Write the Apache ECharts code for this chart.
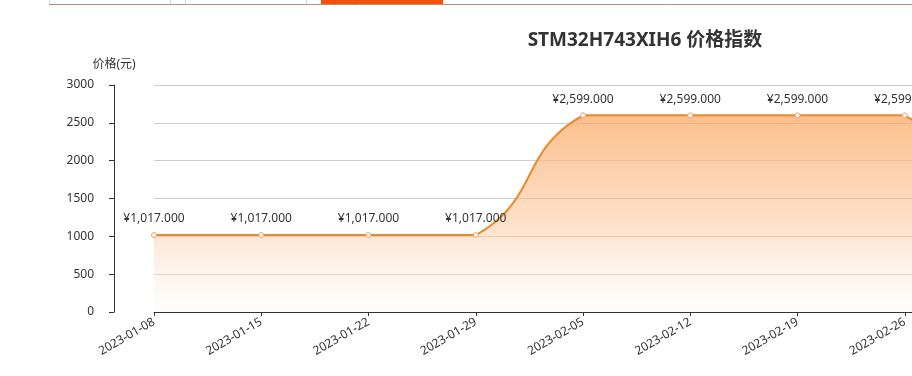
<!DOCTYPE html>
<html>
<head>
<meta charset="utf-8">
<script src="https://cdn.jsdelivr.net/npm/echarts@6/dist/echarts.min.js"></script>
<style>
html,body{margin:0;padding:0;background:#fff;overflow:hidden;width:912px;height:376px;}
#c{width:1290px;height:376px;}
</style>
</head>
<body>
<div id="c"></div>
<script>
const titleText = 'STM32H743XIH6 价格指数';
const yAxisName = '价格(元)';
const categories = ['2023-01-08','2023-01-15','2023-01-22','2023-01-29','2023-02-05','2023-02-12','2023-02-19','2023-02-26','2023-03-05'];
const prices = [1017, 1017, 1017, 1017, 2599, 2599, 2599, 2599, 1017];
const yTicks = [0, 500, 1000, 1500, 2000, 2500, 3000];

const chart = echarts.init(document.getElementById('c'), null, {renderer:'canvas'});
const fam = '"Noto Sans", "Noto Sans CJK SC", sans-serif';
const lineColor = '#e8892b';
const SMOOTH = 0.5;
function fmt(v){
  return '¥' + Number(v).toLocaleString('en-US',{minimumFractionDigits:3,maximumFractionDigits:3});
}
// classic bezier smoothing (control points from neighbours, constrained to bbox of points)
function controlPoints(pts){
  let minX=Infinity,minY=Infinity,maxX=-Infinity,maxY=-Infinity;
  pts.forEach(p=>{minX=Math.min(minX,p[0]);maxX=Math.max(maxX,p[0]);minY=Math.min(minY,p[1]);maxY=Math.max(maxY,p[1]);});
  const cps=[];
  const n=pts.length;
  for(let i=0;i<n;i++){
    const p=pts[i], prev=pts[i===0?i:i-1], next=pts[i===n-1?i:i+1];
    const vx=(next[0]-prev[0])*SMOOTH, vy=(next[1]-prev[1])*SMOOTH;
    let d0=Math.hypot(p[0]-prev[0],p[1]-prev[1]), d1=Math.hypot(p[0]-next[0],p[1]-next[1]);
    const s=d0+d1; if(s!==0){d0/=s;d1/=s;}
    const clamp=(x,y)=>[Math.min(Math.max(x,minX),maxX),Math.min(Math.max(y,minY),maxY)];
    cps.push([clamp(p[0]-vx*d0,p[1]-vy*d0), clamp(p[0]+vx*d1,p[1]+vy*d1)]);
  }
  return cps;
}
function bez(a,b,c,d,t){const u=1-t;return u*u*u*a+3*u*u*t*b+3*u*t*t*c+t*t*t*d;}

function renderCurve(params, api){
  if(params.dataIndex !== 0) return null;
  const pts = prices.map((v,k)=>api.coord([k,v]));
  const cps = controlPoints(pts);
  const curve=[];
  const N=40;
  for(let i=0;i<pts.length-1;i++){
    const p0=pts[i], p1=pts[i+1], c0=cps[i][1], c1=cps[i+1][0];
    for(let s=(i===0?0:1);s<=N;s++){
      const t=s/N;
      curve.push([bez(p0[0],c0[0],c1[0],p1[0],t), bez(p0[1],c0[1],c1[1],p1[1],t)]);
    }
  }
  const base = api.coord([0,0])[1];
  const top = api.coord([0,Math.max.apply(null,prices)])[1];
  const poly = curve.concat([[pts[pts.length-1][0],base],[pts[0][0],base]]);
  const grad = new echarts.graphic.LinearGradient(0, top, 0, base, [
    {offset:0,color:'rgba(251,168,100,0.75)'},
    {offset:0.55,color:'rgba(252,198,155,0.55)'},
    {offset:1,color:'rgba(255,246,238,0.2)'}
  ], true);
  return {type:'group',children:[
    {type:'polygon',shape:{points:poly},style:{fill:grad},silent:true},
    {type:'polyline',shape:{points:curve},style:{stroke:lineColor,lineWidth:2,fill:null},silent:true}
  ]};
}

chart.setOption({
  animation:false,
  textStyle:{fontFamily:fam},
  title:{
    text:titleText,
    left:'center',
    top:26,
    textStyle:{fontSize:19,fontWeight:'bold',color:'#333',fontFamily:fam}
  },
  graphic:[
    {type:'line',shape:{x1:49,y1:4.5,x2:1290,y2:4.5},style:{stroke:'#b89070',lineWidth:1}},
    {type:'line',shape:{x1:49.5,y1:0,x2:49.5,y2:4},style:{stroke:'#d8d8d8',lineWidth:1}},
    {type:'line',shape:{x1:170.5,y1:0,x2:170.5,y2:4},style:{stroke:'#d8d8d8',lineWidth:1}},
    {type:'line',shape:{x1:185.5,y1:0,x2:185.5,y2:4},style:{stroke:'#d8d8d8',lineWidth:1}},
    {type:'line',shape:{x1:306.5,y1:0,x2:306.5,y2:4},style:{stroke:'#d8d8d8',lineWidth:1}},
    {type:'rect',shape:{x:321,y:0,width:122,height:4},style:{fill:'#f5500c'}}
  ],
  grid:{left:154,top:85,bottom:64,right:278,containLabel:false},
  xAxis:{
    type:'category',
    data:categories,
    boundaryGap:false,
    axisLine:{show:true,lineStyle:{color:'#333'}},
    axisTick:{show:true,length:4,lineStyle:{color:'#333'}},
    axisLabel:{rotate:30,color:'#333',fontSize:12,margin:9,fontFamily:fam},
    splitLine:{show:false}
  },
  yAxis:{
    type:'value',
    min:yTicks[0],
    max:yTicks[yTicks.length-1],
    interval:500,
    offset:40,
    name:yAxisName,
    nameGap:14,
    nameTextStyle:{color:'#333',fontSize:12,fontFamily:fam},
    axisLine:{show:true,lineStyle:{color:'#333'}},
    axisTick:{show:true,length:5,lineStyle:{color:'#333'}},
    axisLabel:{color:'#333',fontSize:12,margin:20,fontFamily:fam,formatter:v=>String(v)},
    splitLine:{show:true,lineStyle:{color:'#cccccc'}}
  },
  series:[
    {
      type:'custom',
      data:prices.map((v,i)=>[i,v]),
      renderItem:renderCurve,
      z:2,
      silent:true
    },
    {
      type:'line',
      data:prices,
      z:3,
      symbol:'circle',
      symbolSize:5,
      showSymbol:true,
      lineStyle:{width:0,opacity:0},
      itemStyle:{color:'#fff8f0',borderColor:'#e3a870',borderWidth:1},
      label:{show:true,position:'top',distance:7,color:'#333',fontSize:12,fontFamily:fam,formatter:p=>fmt(p.value)}
    }
  ]
});
</script>
</body>
</html>
